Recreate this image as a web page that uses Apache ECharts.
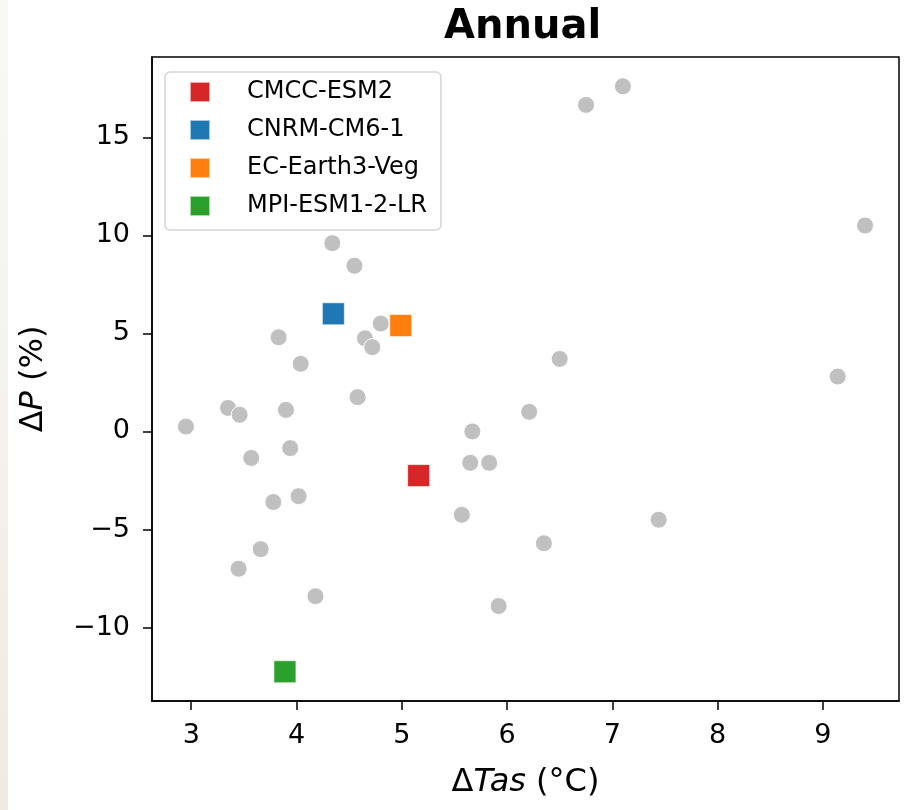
<!DOCTYPE html>
<html>
<head>
    <meta charset="utf-8">
    <script type="text/javascript" src="https://cdn.jsdelivr.net/npm/echarts@6/dist/echarts.min.js"></script>
    <style type="text/css">
        * {
            margin: 0;
            padding: 0;
        }
        body {
            background: #ffffff;
        }
        #container {
            width: 915px;
            height: 810px;
        }
    </style>
</head>
<body>
<div id="container"></div>

<script type="text/javascript">

    //其他模式 (灰点)
    var otherTas = [2.95, 3.35, 3.46, 3.57, 3.45, 3.66, 3.78, 3.83, 3.90, 3.94, 4.02, 4.04, 4.18, 4.34, 4.55, 4.58,
                    4.65, 4.72, 4.80, 5.57, 5.65, 5.67, 5.83, 5.92, 6.21, 6.35, 6.50, 6.75, 7.10, 7.44, 9.14, 9.40];
    var otherP   = [0.25, 1.2, 0.85, -1.35, -7.0, -6.0, -3.6, 4.8, 1.1, -0.85, -3.3, 3.45, -8.4, 9.6, 8.45, 1.75,
                    4.75, 4.3, 5.5, -4.25, -1.6, 0.0, -1.6, -8.9, 1.0, -5.7, 3.7, 16.65, 17.6, -4.5, 2.8, 10.5];

    //选中的模式
    var modelNames = ['CMCC-ESM2', 'CNRM-CM6-1', 'EC-Earth3-Veg', 'MPI-ESM1-2-LR'];
    var modelTas   = [5.16, 4.35, 4.99, 3.89];
    var modelP     = [-2.25, 6.0, 5.4, -12.25];

    //刻度
    var xTicks = [3, 4, 5, 6, 7, 8, 9];
    var yTicks = [-10, -5, 0, 5, 10, 15];

    var modelColors = ['#d62728', '#1f77b4', '#ff7f0e', '#2ca02c'];
    var fontName = 'DejaVu Sans';

    //类似 matplotlib 的 5% 边距
    function padRange(arr) {
        var lo = Math.min.apply(null, arr);
        var hi = Math.max.apply(null, arr);
        var m = (hi - lo) * 0.05;
        return [lo - m, hi + m];
    }

    function minusFmt(v) {
        return v < 0 ? '\u2212' + Math.abs(v) : String(v);
    }

    var xr = padRange(otherTas.concat(modelTas));
    var yr = padRange(otherP.concat(modelP));

    var otherData = [];
    for (var i = 0; i < otherTas.length; i++) {
        otherData.push([otherTas[i], otherP[i]]);
    }

    var series = [{
        name: 'others',
        type: 'scatter',
        symbol: 'circle',
        symbolSize: 17,
        itemStyle: {
            color: '#c0c0c0',
            opacity: 1,
            borderColor: '#ffffff',
            borderWidth: 1
        },
        data: otherData,
        z: 2
    }];
    for (var k = 0; k < modelNames.length; k++) {
        series.push({
            name: modelNames[k],
            type: 'scatter',
            symbol: 'rect',
            symbolSize: 22,
            itemStyle: {
                color: modelColors[k],
                opacity: 1,
                borderColor: 'rgba(255,255,255,0.6)',
                borderWidth: 1
            },
            data: [[modelTas[k], modelP[k]]],
            z: 3
        });
    }

    var myChart = echarts.init(document.getElementById('container'));
    var option = {
        animation: false,
        backgroundColor: '#ffffff',
        graphic: [{
            type: 'rect',
            left: 0,
            top: 0,
            shape: {width: 8, height: 810},
            style: {
                fill: new echarts.graphic.LinearGradient(0, 0, 0, 1, [
                    {offset: 0, color: '#faf9f6'},
                    {offset: 1, color: '#eeebe1'}
                ])
            },
            silent: true
        }],
        title: {
            text: 'Annual',
            left: 444,
            top: 8,
            padding: 0,
            textStyle: {
                fontFamily: fontName,
                fontWeight: 'bold',
                fontSize: 40,
                color: '#000'
            }
        },
        legend: {
            data: modelNames,
            orient: 'vertical',
            left: 165,
            top: 72,
            padding: [8, 14, 12, 24],
            itemWidth: 20,
            itemHeight: 20,
            itemGap: 14,
            icon: 'rect',
            backgroundColor: 'rgba(255,255,255,0.8)',
            borderColor: '#d5d5d5',
            borderWidth: 1.5,
            borderRadius: 5,
            itemStyle: {opacity: 1},
            textStyle: {
                fontFamily: fontName,
                fontSize: 24,
                lineHeight: 24,
                color: '#000',
                padding: [0, 0, 0, 32]
            }
        },
        grid: {
            left: 152,
            right: 16,
            top: 57,
            bottom: 109,
            show: true,
            borderColor: '#000',
            borderWidth: 1.5,
            containLabel: false
        },
        xAxis: {
            type: 'value',
            min: xr[0],
            max: xr[1],
            name: '{d|Δ}{i|Tas}{d| (°C)}',
            nameLocation: 'middle',
            nameGap: 66,
            nameTextStyle: {
                rich: {
                    d: {fontFamily: fontName, fontSize: 32, color: '#000'},
                    i: {fontFamily: fontName, fontSize: 32, fontStyle: 'italic', color: '#000'}
                }
            },
            axisLine: {show: true, onZero: false, lineStyle: {color: '#000', width: 1.5}},
            axisTick: {show: true, length: 9, customValues: xTicks, lineStyle: {color: '#000', width: 1.5}},
            axisLabel: {
                customValues: xTicks,
                margin: 21,
                fontFamily: fontName,
                fontSize: 27,
                color: '#000',
                formatter: minusFmt
            },
            splitLine: {show: false}
        },
        yAxis: {
            type: 'value',
            min: yr[0],
            max: yr[1],
            name: '{d|Δ}{i|P}{d| (%)}',
            nameLocation: 'middle',
            nameGap: 102,
            nameRotate: 90,
            nameTextStyle: {
                rich: {
                    d: {fontFamily: fontName, fontSize: 32, color: '#000'},
                    i: {fontFamily: fontName, fontSize: 32, fontStyle: 'italic', color: '#000'}
                }
            },
            axisLine: {show: true, onZero: false, lineStyle: {color: '#000', width: 1.5}},
            axisTick: {show: true, length: 9, customValues: yTicks, lineStyle: {color: '#000', width: 1.5}},
            axisLabel: {
                customValues: yTicks,
                margin: 22,
                fontFamily: fontName,
                fontSize: 27,
                color: '#000',
                formatter: minusFmt
            },
            splitLine: {show: false}
        },
        series: series
    };
    myChart.setOption(option, true);
</script>
</body>
</html>
